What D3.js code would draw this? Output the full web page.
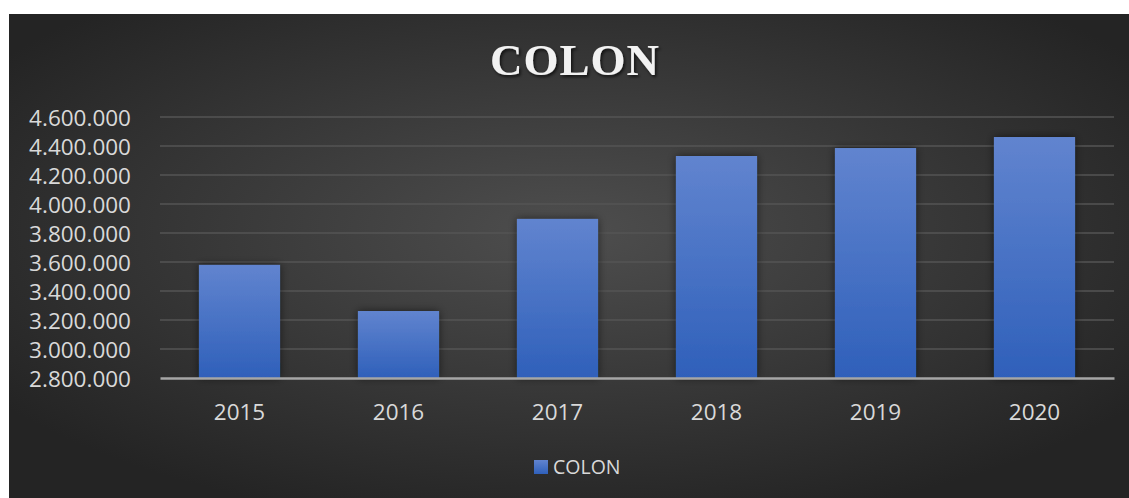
<!DOCTYPE html>
<html><head><meta charset="utf-8">
<script src="https://cdn.jsdelivr.net/npm/d3@7"></script>
<style>html,body{margin:0;padding:0;background:#fff;}svg{display:block;}</style>
</head><body>
<script>
const categories = ["2015","2016","2017","2018","2019","2020"];
const values = [3580000, 3262000, 3897000, 4331000, 4386000, 4462000];
const yTicks = [2800000,3000000,3200000,3400000,3600000,3800000,4000000,4200000,4400000,4600000];
const seriesName = "COLON";

const W = 1129, H = 498;
const svg = d3.select("body").append("svg").attr("width", W).attr("height", H);
const defs = svg.append("defs");

const bg = defs.append("radialGradient").attr("id","bg").attr("cx","50%").attr("cy","45%").attr("r","62%");
bg.append("stop").attr("offset","0%").attr("stop-color","#4e4e4e");
bg.append("stop").attr("offset","100%").attr("stop-color","#242424");

const bar = defs.append("linearGradient").attr("id","bar").attr("x1",0).attr("y1",0).attr("x2",0).attr("y2",1);
bar.append("stop").attr("offset","0%").attr("stop-color","#6184cf");
bar.append("stop").attr("offset","100%").attr("stop-color","#2f60ba");

const sh = defs.append("filter").attr("id","shadow").attr("x","-20%").attr("y","-20%").attr("width","140%").attr("height","140%");
sh.append("feDropShadow").attr("dx",0).attr("dy",0).attr("stdDeviation",4).attr("flood-color","#000").attr("flood-opacity",0.55);

const tsh = defs.append("filter").attr("id","tshadow").attr("x","-20%").attr("y","-20%").attr("width","140%").attr("height","160%");
tsh.append("feDropShadow").attr("dx",1.5).attr("dy",2).attr("stdDeviation",1.5).attr("flood-color","#000").attr("flood-opacity",0.7);

svg.append("rect").attr("x",9).attr("y",14).attr("width",W-9).attr("height",H-14).attr("fill","url(#bg)");

const x = d3.scaleBand().domain(categories).range([160,1114]).paddingInner(0.49).paddingOuter(0.245);
const y = d3.scaleLinear().domain([2800000,4600000]).range([378,117]);

const fmt = v => d3.format(",")(v).replace(/,/g,".");
const FONT = "'Open Sans', 'Noto Sans', sans-serif";

// gridlines
svg.append("g").selectAll("line").data(yTicks.slice(1)).join("line")
  .attr("x1",160).attr("x2",1114).attr("y1",d=>y(d)).attr("y2",d=>y(d))
  .attr("stroke","#555555").attr("stroke-width",1.5);

// y axis labels
const yAxis = d3.axisLeft(y).tickValues(yTicks).tickFormat(fmt).tickSize(0).tickPadding(0);
const yg = svg.append("g").attr("transform","translate(131,0)").call(yAxis);
yg.select(".domain").remove();
yg.selectAll("text").attr("fill","#d9d9d9").attr("font-family",FONT).attr("font-size",22.5).attr("dy","0.36em");

// bars
svg.append("g").selectAll("rect").data(categories).join("rect")
  .attr("x",d=>x(d)).attr("width",x.bandwidth())
  .attr("y",(d,i)=>y(values[i])).attr("height",(d,i)=>y(2800000)-y(values[i]))
  .attr("fill","url(#bar)").attr("filter","url(#shadow)");

// x axis
const xAxis = d3.axisBottom(x).tickSize(0).tickPadding(0);
const xg = svg.append("g").attr("transform","translate(0,378)").call(xAxis);
xg.select(".domain").attr("stroke","#a6a6a6").attr("stroke-width",2.5);
xg.selectAll("text").attr("fill","#d9d9d9").attr("font-family",FONT).attr("font-size",22.5).attr("dy","0").attr("y",41.5);

// title
svg.append("text").attr("x",575).attr("y",75).attr("text-anchor","middle")
  .attr("font-family","'Liberation Serif', 'Times New Roman', serif").attr("font-weight","bold")
  .attr("font-size",45).attr("letter-spacing",1).attr("fill","#f2f2f2").attr("filter","url(#tshadow)").text(seriesName);

// legend
svg.append("rect").attr("x",534).attr("y",460).attr("width",14).attr("height",14).attr("fill","url(#bar)");
svg.append("text").attr("x",553).attr("y",474).attr("font-family",FONT).attr("font-size",19.5)
  .attr("fill","#d9d9d9").text(seriesName);
</script>
</body></html>
